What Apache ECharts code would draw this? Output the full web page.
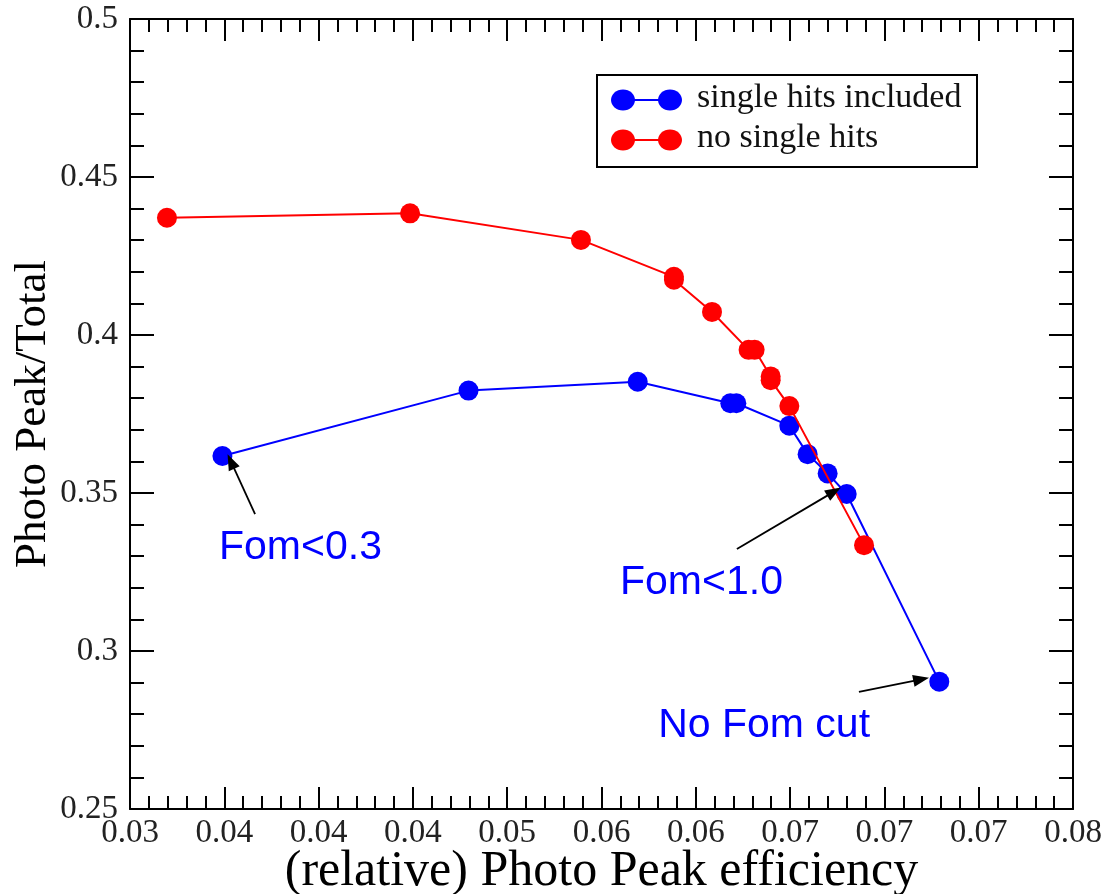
<!DOCTYPE html>
<html>
<head>
<meta charset="utf-8">
<script src="https://cdn.jsdelivr.net/npm/echarts@6/dist/echarts.min.js"></script>
<style>
  html, body { margin: 0; padding: 0; background: #ffffff; }
  #chart { width: 1103px; height: 894px; }
</style>
</head>
<body>
<div id="chart"></div>
<script>
// Photo peak efficiency vs. peak-to-total for successive FOM cuts
const singleHitsX = [0.03490, 0.04795, 0.05692, 0.06183, 0.06215, 0.06496, 0.06593, 0.06699, 0.06800, 0.07291];
const singleHitsY = [0.3617, 0.3824, 0.3852, 0.3784, 0.3784, 0.3713, 0.3623, 0.3562, 0.3497, 0.2903];

const noSingleX = [0.03196, 0.04485, 0.05391, 0.05884, 0.05884, 0.06086, 0.06280, 0.06312, 0.06397, 0.06397, 0.06496, 0.06892];
const noSingleY = [0.4371, 0.4385, 0.4301, 0.4184, 0.4175, 0.4073, 0.3953, 0.3953, 0.3869, 0.3857, 0.3775, 0.3335];

const seriesNames = ['single hits included', 'no single hits'];

// axis range and printed tick labels
const xMin = 0.03, xMax = 0.08, xStep = 0.005;
const yMin = 0.25, yMax = 0.5, yStep = 0.05;
const xTickLabels = ['0.03', '0.04', '0.04', '0.04', '0.05', '0.06', '0.06', '0.07', '0.07', '0.07', '0.08'];
const yTickLabels = ['0.25', '0.3', '0.35', '0.4', '0.45', '0.5'];

// FOM cut annotations (data coordinates)
const noteTexts = ['Fom<0.3', 'Fom<1.0', 'No Fom cut'];
const noteAt = [[0.03904, 0.33275], [0.06030, 0.32168], [0.06362, 0.27627]];
const arrowFrom = [[0.03663, 0.34335], [0.06218, 0.33228], [0.06865, 0.28703]];
const arrowTo = [[0.03535, 0.36000], [0.06733, 0.35044], [0.07195, 0.29101]];

const pairs = (xs, ys) => xs.map((x, i) => [x, ys[i]]);

const BLUE = '#0000ff';
const RED = '#ff0000';
const serif = 'Liberation Serif';

const tickCommon = {
  axisLine: { show: true, onZero: false, lineStyle: { color: '#000', width: 2 } },
  splitLine: { show: false }
};

function xAxisCfg(position, showLabels) {
  return Object.assign({
    type: 'value', position: position, min: xMin, max: xMax, interval: xStep,
    axisTick: { show: true, inside: true, length: 22, lineStyle: { color: '#000', width: 2 } },
    minorTick: { show: true, splitNumber: 5, length: 13, lineStyle: { color: '#000', width: 2 } },
    axisLabel: {
      show: showLabels, margin: 8, showMinLabel: true, showMaxLabel: true,
      fontFamily: serif, fontSize: 33, color: '#222',
      formatter: v => xTickLabels[Math.round((v - xMin) / xStep)]
    }
  }, tickCommon);
}

function yAxisCfg(position, showLabels) {
  return Object.assign({
    type: 'value', position: position, min: yMin, max: yMax, interval: yStep,
    axisTick: { show: true, inside: true, length: 24, lineStyle: { color: '#000', width: 2 } },
    minorTick: { show: true, splitNumber: 5, length: 14, lineStyle: { color: '#000', width: 2 } },
    axisLabel: {
      show: showLabels, margin: 12, showMinLabel: true, showMaxLabel: true,
      fontFamily: serif, fontSize: 33, color: '#222',
      formatter: v => yTickLabels[Math.round((v - yMin) / yStep)]
    }
  }, tickCommon);
}

const xBottom = Object.assign(xAxisCfg('bottom', true), {
  name: '(relative) Photo Peak efficiency', nameLocation: 'middle', nameGap: 38,
  nameMoveOverlap: false,
  nameTextStyle: { fontFamily: serif, fontSize: 50, color: '#000' }
});
const yLeft = Object.assign(yAxisCfg('left', true), {
  name: 'Photo Peak/Total', nameLocation: 'middle', nameGap: 74,
  nameMoveOverlap: false,
  nameTextStyle: { fontFamily: serif, fontSize: 45, color: '#000' }
});

const chart = echarts.init(document.getElementById('chart'), null, { renderer: 'canvas' });

// legend box drawn as a framed inset
const legendRows = [
  { name: seriesNames[0], color: BLUE, y: 100 },
  { name: seriesNames[1], color: RED, y: 140 }
];
const legendGraphics = [{
  type: 'rect', z: 20,
  shape: { x: 597, y: 75, width: 380, height: 92 },
  style: { fill: '#fff', stroke: '#000', lineWidth: 2 }
}];
legendRows.forEach(r => {
  legendGraphics.push(
    { type: 'line', z: 21, shape: { x1: 623, y1: r.y, x2: 670, y2: r.y }, style: { stroke: r.color, lineWidth: 2 } },
    { type: 'ellipse', z: 22, shape: { cx: 623, cy: r.y, rx: 12, ry: 10.5 }, style: { fill: r.color } },
    { type: 'ellipse', z: 22, shape: { cx: 670, cy: r.y, rx: 12, ry: 10.5 }, style: { fill: r.color } },
    { type: 'text', z: 22, x: 697, y: r.y - 2,
      style: { text: r.name, fontFamily: serif, fontSize: 34, fill: '#111', verticalAlign: 'middle', align: 'left' } }
  );
});

chart.setOption({
  animation: false,
  backgroundColor: '#ffffff',
  grid: { left: 130, right: 30, top: 19, bottom: 85, containLabel: false, outerBoundsMode: 'none' },
  xAxis: [xBottom, xAxisCfg('top', false)],
  yAxis: [yLeft, yAxisCfg('right', false)],
  series: [
    {
      name: seriesNames[0], type: 'line', xAxisIndex: 0, yAxisIndex: 0,
      data: pairs(singleHitsX, singleHitsY),
      symbol: 'circle', symbolSize: 20, showAllSymbol: true,
      lineStyle: { color: BLUE, width: 2 }, itemStyle: { color: BLUE },
      z: 3,
      markLine: {
        silent: true, animation: false,
        symbol: ['none', 'triangle'], symbolSize: [12, 16],
        label: { show: false },
        lineStyle: { color: '#000', width: 1.8, type: 'solid' },
        data: arrowFrom.map((f, i) => [{ coord: f }, { coord: arrowTo[i] }])
      },
      markPoint: {
        silent: true, animation: false,
        symbol: 'circle', symbolSize: 1,
        itemStyle: { color: 'rgba(0,0,0,0)' },
        label: {
          show: true, position: 'inside', formatter: '{b}',
          fontFamily: 'Liberation Sans', fontSize: 41, color: BLUE
        },
        data: noteTexts.map((t, i) => ({ name: t, coord: noteAt[i] }))
      }
    },
    {
      name: seriesNames[1], type: 'line', xAxisIndex: 0, yAxisIndex: 0,
      data: pairs(noSingleX, noSingleY),
      symbol: 'circle', symbolSize: 20, showAllSymbol: true,
      lineStyle: { color: RED, width: 2 }, itemStyle: { color: RED },
      z: 4
    }
  ],
  graphic: legendGraphics
});
</script>
</body>
</html>
